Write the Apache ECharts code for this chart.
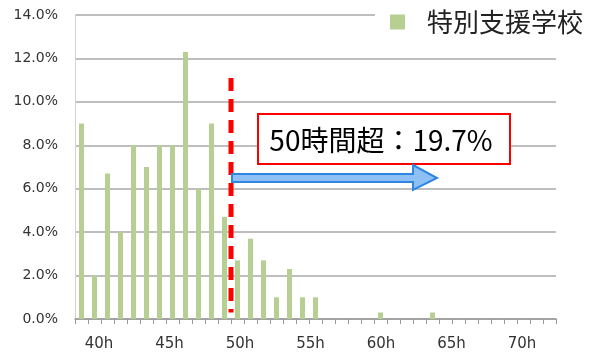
<!DOCTYPE html>
<html>
<head>
<meta charset="utf-8">
<script src="https://cdn.jsdelivr.net/npm/echarts@6/dist/echarts.min.js"></script>
<style>
  html, body { margin: 0; padding: 0; background: #ffffff; }
  #chart { width: 595px; height: 356px; }
</style>
</head>
<body>
<div id="chart"></div>
<script>
// Weekly working-hour bins, one bar per hour (39h .. 75h)
const hours = [
  '39h','40h','41h','42h','43h','44h','45h','46h','47h','48h',
  '49h','50h','51h','52h','53h','54h','55h','56h','57h','58h',
  '59h','60h','61h','62h','63h','64h','65h','66h','67h','68h',
  '69h','70h','71h','72h','73h','74h','75h'
];
// Share of teachers (%) in each bin
const shares = [
  9.0, 2.0, 6.7, 4.0, 8.0, 7.0, 8.0, 8.0, 12.3, 6.0,
  9.0, 4.7, 2.7, 3.7, 2.7, 1.0, 2.3, 1.0, 1.0, 0,
  0, 0, 0, 0.3, 0, 0, 0, 0.3, 0, 0,
  0, 0, 0, 0, 0, 0, 0
];
// Hour labels printed under the axis
const hourTicks = [40, 45, 50, 55, 60, 65, 70];
const seriesName = '特別支援学校';
const overLabel = '50時間超：19.7%';

const chart = echarts.init(document.getElementById('chart'), null, { renderer: 'canvas' });

const option = {
  animation: false,
  backgroundColor: '#ffffff',
  grid: { left: 75, right: 39, top: 15, bottom: 37 },
  legend: {
    data: [seriesName],
    left: 375,
    top: 3,
    padding: [6, 10, 6, 15],
    backgroundColor: '#ffffff',
    icon: 'rect',
    itemWidth: 15,
    itemHeight: 15,
    textStyle: {
      fontFamily: 'Noto Sans CJK JP',
      fontSize: 26,
      color: '#222222',
      padding: [0, 0, 0, 17]
    }
  },
  xAxis: [
    {
      type: 'category',
      data: hours,
      boundaryGap: true,
      axisLine: { lineStyle: { color: '#9a9a9a', width: 1.5 } },
      axisTick: { show: true, length: 5, interval: 0, lineStyle: { color: '#9a9a9a' } },
      axisLabel: { show: false },
      splitLine: { show: false }
    },
    {
      type: 'value',
      position: 'bottom',
      min: 38.3,
      max: 72.41,
      axisLine: { show: false },
      axisTick: { show: false },
      splitLine: { show: false },
      axisLabel: {
        customValues: hourTicks,
        formatter: '{value}h',
        margin: 18,
        fontFamily: 'DejaVu Sans',
        fontSize: 15,
        color: '#333333'
      }
    }
  ],
  yAxis: {
    type: 'value',
    min: 0,
    max: 14,
    interval: 2,
    axisLine: { show: true, lineStyle: { color: '#d4d4d4', width: 1 } },
    axisTick: { show: false },
    axisLabel: {
      formatter: v => v.toFixed(1) + '%',
      margin: 17,
      fontFamily: 'DejaVu Sans',
      fontSize: 14,
      color: '#333333'
    },
    splitLine: { lineStyle: { color: '#a8a8a8', width: 1.6 } }
  },
  series: [
    {
      name: seriesName,
      type: 'bar',
      xAxisIndex: 0,
      data: shares,
      barWidth: 5,
      itemStyle: { color: '#b7cf93' }
    }
  ]
};

chart.setOption(option);

// Annotations: dashed divider between the 50h and 51h bins, callout box and arrow
const xLeft = chart.convertToPixel({ xAxisIndex: 0 }, 11);
const xRight = chart.convertToPixel({ xAxisIndex: 0 }, 12);
const xDiv = (xLeft + xRight) / 2;
const yTop = chart.convertToPixel({ yAxisIndex: 0 }, 11.1);
const yBot = chart.convertToPixel({ yAxisIndex: 0 }, 0.3);

chart.setOption({
  graphic: [
    {
      type: 'line',
      shape: { x1: xDiv, y1: yTop, x2: xDiv, y2: yBot },
      style: { stroke: '#ff0000', lineWidth: 5, lineDash: [13, 8] },
      z: 10
    },
    {
      type: 'rect',
      shape: { x: 258, y: 114, width: 252, height: 50 },
      style: { fill: '#ffffff', stroke: '#ff0000', lineWidth: 2 },
      z: 10
    },
    {
      type: 'text',
      x: 381,
      y: 140,
      style: {
        text: overLabel,
        fontFamily: 'Noto Sans CJK JP',
        fontSize: 28,
        fill: '#000000',
        align: 'center',
        verticalAlign: 'middle'
      },
      z: 11
    },
    {
      type: 'polygon',
      shape: {
        points: [[232, 174], [413, 174], [413, 165], [437, 178], [413, 190], [413, 182], [232, 182]]
      },
      style: { fill: '#8ec0f5', stroke: '#2f86e0', lineWidth: 2 },
      z: 10
    }
  ]
});
</script>
</body>
</html>
